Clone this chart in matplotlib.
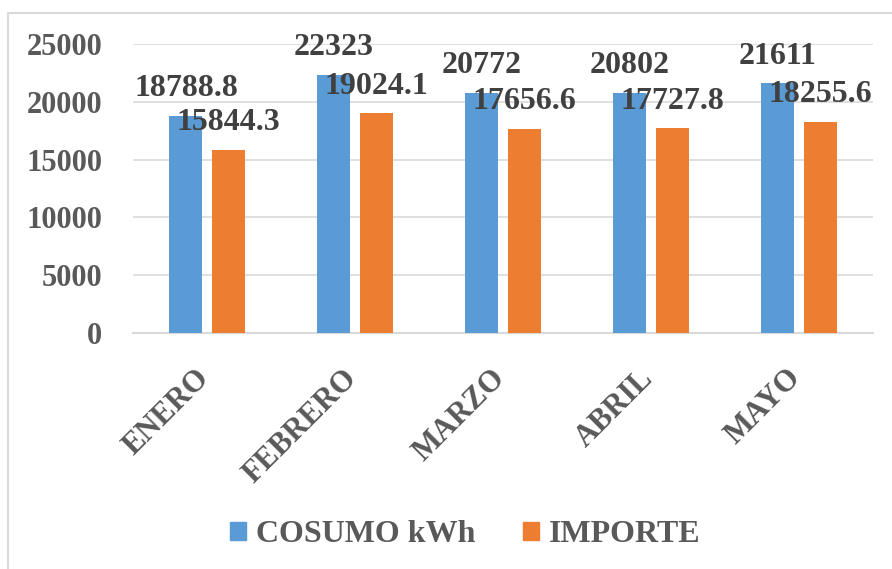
import matplotlib
matplotlib.use("Agg")
import matplotlib.pyplot as plt
import matplotlib.transforms as mtrans
from matplotlib.lines import Line2D
from matplotlib.patches import Patch
import numpy as np

# --- data ---
months = ["ENERO", "FEBRERO", "MARZO", "ABRIL", "MAYO"]
consumo_kwh = [18788.8, 22323, 20772, 20802, 21611]
importe = [15844.3, 19024.1, 17656.6, 17727.8, 18255.6]
series_names = ["COSUMO kWh", "IMPORTE"]
y_ticks = [0, 5000, 10000, 15000, 20000, 25000]

BLUE = "#5B9BD5"
ORANGE = "#ED7D31"
GRID = "#D9D9D9"
LABEL = "#404040"
TICK = "#595959"

plt.rcParams["font.family"] = ["Liberation Serif", "DejaVu Serif"]
plt.rcParams["font.weight"] = "bold"

W, H = 892, 569
fig = plt.figure(figsize=(W / 100, H / 100), dpi=100)
ax = fig.add_axes([133 / W, 1 - 333 / H, (873 - 133) / W, (333 - 44) / H])

x = np.arange(len(months))
width = 0.223
offset = 0.142

bars_a = ax.bar(x - offset, consumo_kwh, width, color=BLUE, zorder=2)
bars_b = ax.bar(x + offset, importe, width, color=ORANGE, zorder=2)

# data labels above each bar
for bars, vals in ((bars_a, consumo_kwh), (bars_b, importe)):
    for b, v in zip(bars, vals):
        ax.annotate(f"{v:g}", (b.get_x() + b.get_width() / 2, v),
                    xytext=(0, 9), textcoords="offset points",
                    ha="center", va="bottom", fontsize=23,
                    fontweight="bold", color=LABEL, zorder=3)

ax.set_xlim(-0.5, len(months) - 0.5)
ax.set_ylim(0, 25000)
ax.set_yticks(y_ticks)
ax.set_yticklabels([str(t) for t in y_ticks], fontsize=22,
                   fontweight="bold", color=TICK)
ax.set_xticks(x)
ax.set_xticklabels(months, rotation=45, ha="right", va="top",
                   fontsize=22, fontweight="bold", color=TICK)
ax.tick_params(axis="y", length=0, pad=22)
ax.tick_params(axis="x", length=0, pad=22)
# nudge the rotated month labels right so they end at the category centre
shift = mtrans.ScaledTranslation(8 / 100, 0, fig.dpi_scale_trans)
for lbl in ax.get_xticklabels():
    lbl.set_transform(lbl.get_transform() + shift)

ax.yaxis.grid(True, color=GRID, linewidth=1.2, zorder=0)
for side in ("top", "right", "left"):
    ax.spines[side].set_visible(False)
ax.spines["bottom"].set_color(GRID)
ax.spines["bottom"].set_linewidth(1.5)
ax.spines["bottom"].set_zorder(1)

# chart-area border (cropped on the right and bottom in the reference)
fig.add_artist(Line2D([8 / W, 8 / W, 1.0], [0.0, 1 - 13 / H, 1 - 13 / H],
                      transform=fig.transFigure, color=GRID, linewidth=1.5))

handles = [Patch(color=BLUE), Patch(color=ORANGE)]
fig.legend(handles, series_names, loc="center", ncol=2,
           bbox_to_anchor=(465 / W, 1 - 535 / H), frameon=False,
           prop={"size": 23, "weight": "bold"}, labelcolor=TICK,
           handlelength=0.5, handleheight=0.5, handletextpad=0.3,
           columnspacing=1.5)

fig.savefig("out.png", dpi=100)
